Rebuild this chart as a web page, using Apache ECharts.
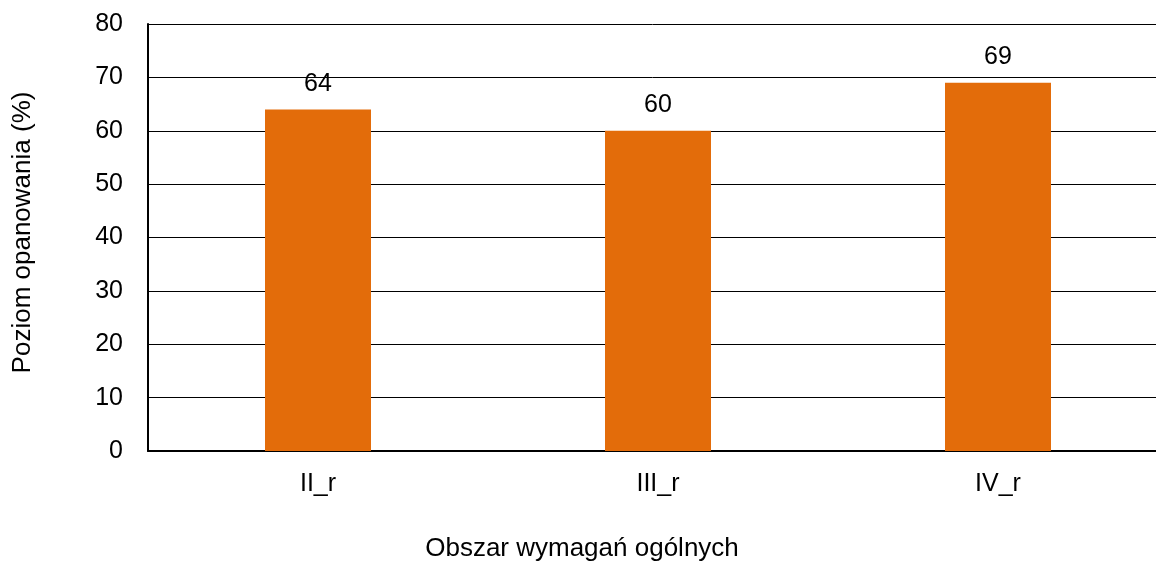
<!DOCTYPE html>
<html>
<head>
<meta charset="utf-8">
<script src="https://cdn.jsdelivr.net/npm/echarts@6/dist/echarts.min.js"></script>
<style>
  html, body { margin: 0; padding: 0; background: #fff; }
  #chart { width: 1156px; height: 561px; }
</style>
</head>
<body>
<div id="chart"></div>
<script>
// dane wykresu
var categories = ['II_r', 'III_r', 'IV_r'];
var values = [64, 60, 69];
var yTicks = [0, 10, 20, 30, 40, 50, 60, 70, 80];

var myChart = echarts.init(document.getElementById('chart'));
var font = 'Liberation Sans, Arial, sans-serif';

var option = {
    backgroundColor: '#fff',
    animation: false,
    textStyle: { fontFamily: font, color: '#000' },
    grid: {
        left: 148,
        top: 24,
        right: -12,
        bottom: 110,
        outerBoundsMode: 'none',
        containLabel: false
    },
    xAxis: {
        type: 'category',
        data: categories,
        name: 'Obszar wymagań ogólnych',
        nameLocation: 'middle',
        nameGap: 85,
        nameTextStyle: { fontSize: 26, color: '#000', fontFamily: font, padding: [0, 152, 0, 0] },
        axisLine: { lineStyle: { color: '#000', width: 2 } },
        axisTick: { show: false },
        axisLabel: { fontSize: 25, color: '#000', margin: 21 }
    },
    yAxis: {
        type: 'value',
        min: yTicks[0],
        max: yTicks[yTicks.length - 1],
        interval: 10,
        name: 'Poziom opanowania (%)',
        nameLocation: 'middle',
        nameGap: 112,
        nameRotate: 90,
        nameTextStyle: { fontSize: 26, color: '#000', fontFamily: font, padding: [0, 0, 0, 10] },
        axisLine: { show: true, lineStyle: { color: '#000', width: 2 } },
        axisTick: { show: false },
        axisLabel: { fontSize: 25, color: '#000', margin: 25 },
        splitLine: { lineStyle: { color: '#000', width: 1 } }
    },
    series: [{
        type: 'bar',
        data: values,
        barWidth: 106,
        itemStyle: { color: '#E36C0A' },
        label: {
            show: true,
            position: 'top',
            distance: 13,
            fontSize: 25,
            color: '#000',
            fontFamily: font
        }
    }]
};
myChart.setOption(option);
</script>
</body>
</html>
